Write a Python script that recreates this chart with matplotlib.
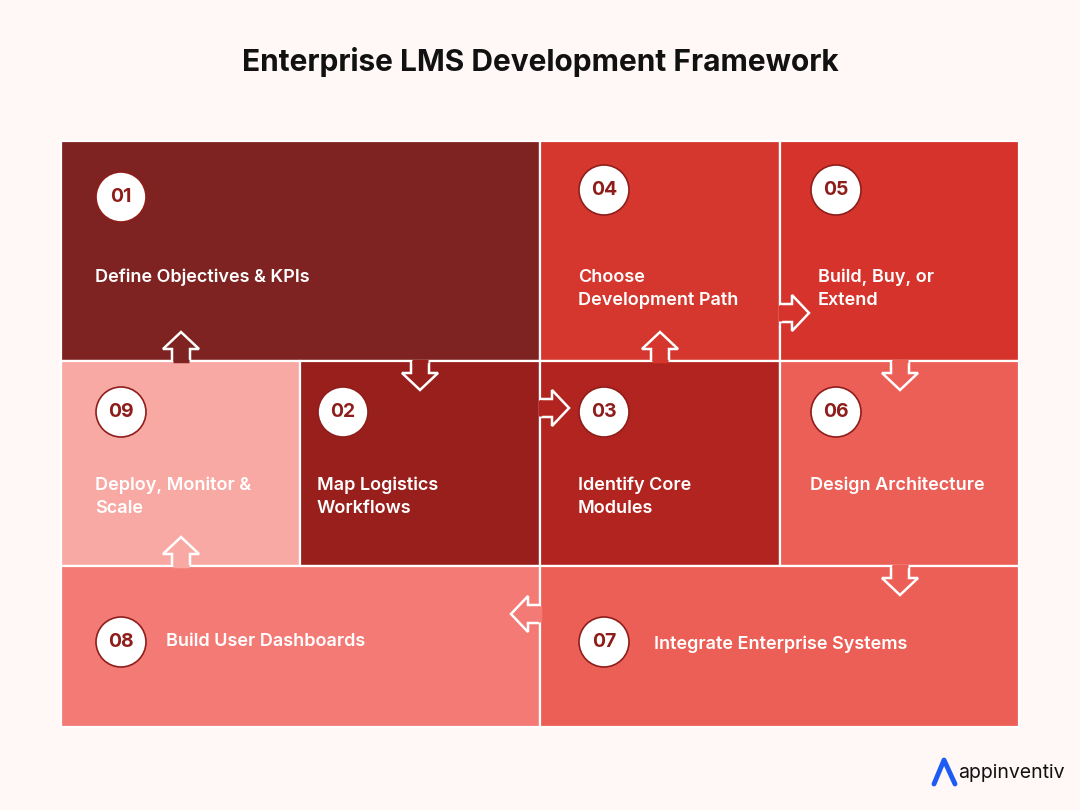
import matplotlib.pyplot as plt
from matplotlib.patches import Rectangle, Circle, Polygon

plt.rcParams['font.family'] = ['Inter', 'DejaVu Sans']

# --- Data ---
TITLE = "Enterprise LMS Development Framework"
STEP_IDS = ["01", "04", "05", "09", "02", "03", "06", "08", "07"]
STEP_LABELS = ["Define Objectives & KPIs", "Choose\nDevelopment Path", "Build, Buy, or\nExtend",
               "Deploy, Monitor &\nScale", "Map Logistics\nWorkflows", "Identify Core\nModules",
               "Design Architecture", "Build User Dashboards", "Integrate Enterprise Systems"]
# tile boxes (x0, y0, x1, y1) in pixel space
BOXES = [(61, 141, 540, 361), (540, 141, 780, 361), (780, 141, 1019, 361),
         (61, 361, 300, 566), (300, 361, 540, 566), (540, 361, 780, 566),
         (780, 361, 1019, 566), (61, 566, 540, 727), (540, 566, 1019, 727)]
COLORS = ["#7E2321", "#D5372E", "#D5332B", "#F9A9A4", "#991F1C", "#B2241F",
          "#EC5F57", "#F47A75", "#EC5F57"]
CIRCLES = [(121, 197), (604, 190), (836, 190), (121, 412), (343, 412), (604, 412),
           (836, 412), (121, 642), (604, 642)]
LABEL_POS = [(95, 277), (578, 289), (818, 289), (95, 497), (317, 497), (578, 497),
             (810, 485), (166, 642), (654, 644)]
# arrows: (base x, base y, direction, destination step id)
ARROWS = [(181, 361, "up", "01"), (420, 361, "down", "02"), (540, 408, "right", "03"),
          (660, 361, "up", "04"), (780, 313, "right", "05"), (900, 361, "down", "06"),
          (900, 566, "down", "07"), (540, 614, "left", "08"), (181, 566, "up", "09")]

BG = "#FFF8F6"
NUM_COLOR = "#8E1E1B"

fig = plt.figure(figsize=(10.8, 8.1), dpi=100, facecolor=BG)
ax = fig.add_axes([0, 0, 1, 1])
ax.set_xlim(0, 1080)
ax.set_ylim(810, 0)
ax.axis("off")

ax.text(540, 62, TITLE, ha="center", va="center", fontsize=21.5, fontweight="bold", color="#111111")

for (x0, y0, x1, y1), c in zip(BOXES, COLORS):
    ax.add_patch(Rectangle((x0, y0), x1 - x0, y1 - y0, facecolor=c, edgecolor="white", lw=1.6))

# arrow outline shapes
SW, HW, HL, L = 9, 18, 17, 29
color_of = dict(zip(STEP_IDS, COLORS))
for bx, by, d, dest in ARROWS:
    # local coordinates: u along arrow, v across
    pts = [(0, -SW), (L - HL, -SW), (L - HL, -HW), (L, 0), (L - HL, HW), (L - HL, SW), (0, SW)]
    if d == "up":
        xy = [(bx + v, by - u) for u, v in pts]
    elif d == "down":
        xy = [(bx + v, by + u) for u, v in pts]
    elif d == "right":
        xy = [(bx + u, by + v) for u, v in pts]
    else:
        xy = [(bx - u, by + v) for u, v in pts]
    c = color_of[dest]
    ax.add_patch(Polygon(xy, closed=False, facecolor=c, edgecolor="white", lw=1.8, zorder=3))
    (ax0, ay0), (ax1, ay1) = xy[0], xy[-1]
    ax.plot([ax0 + (ax1 - ax0) * 0.08, ax1 - (ax1 - ax0) * 0.08],
            [ay0 + (ay1 - ay0) * 0.08, ay1 - (ay1 - ay0) * 0.08],
            color=c, lw=2.5, zorder=4, solid_capstyle="butt")

for sid, (cx, cy), lab, (lx, ly) in zip(STEP_IDS, CIRCLES, STEP_LABELS, LABEL_POS):
    ax.add_patch(Circle((cx, cy), 25, facecolor="white", edgecolor=NUM_COLOR, lw=1.2, zorder=5))
    ax.text(cx, cy, sid, ha="center", va="center", fontsize=14, fontweight="bold",
            color=NUM_COLOR, zorder=6)
    ax.text(lx, ly, lab, ha="left", va="center", fontsize=13, fontweight="semibold",
            color="white", linespacing=1.45, zorder=6)

# logo
ax.plot([934, 944, 955], [784, 760, 784], color="#1D5BF5", lw=3.5, solid_capstyle="round")
ax.text(958, 773, "appinventiv", ha="left", va="center", fontsize=14, color="#111111")

fig.savefig("out.png", dpi=100, facecolor=BG)
